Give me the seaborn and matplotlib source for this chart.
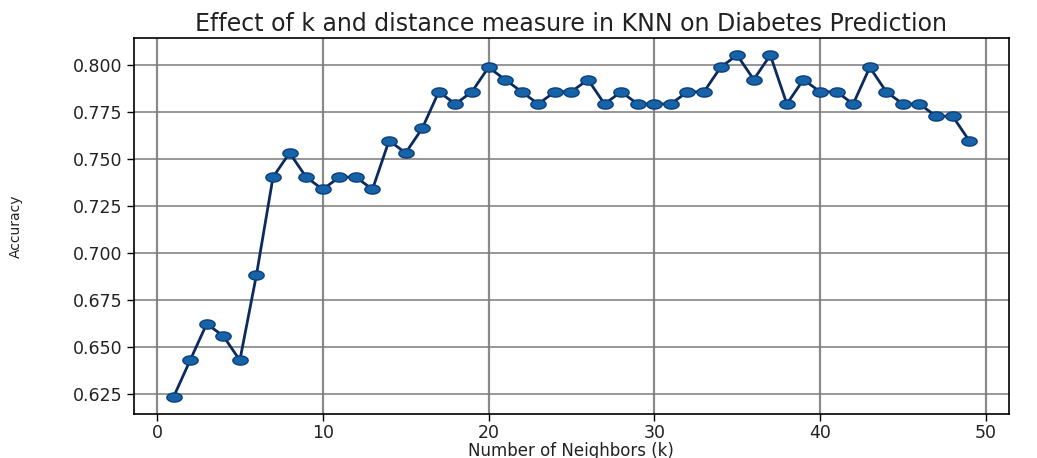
import numpy as np
import pandas as pd
import matplotlib
matplotlib.use("Agg")
import matplotlib.pyplot as plt
from matplotlib.path import Path
import seaborn as sns

# Test accuracy for each neighbourhood size k
k_values = list(range(1, 50))
accuracy = [
    0.6234, 0.6429, 0.6623, 0.6558, 0.6429, 0.6883, 0.7403, 0.7532, 0.7403, 0.7338,
    0.7403, 0.7403, 0.7338, 0.7597, 0.7532, 0.7662, 0.7857, 0.7792, 0.7857, 0.7987,
    0.7922, 0.7857, 0.7792, 0.7857, 0.7857, 0.7922, 0.7792, 0.7857, 0.7792, 0.7792,
    0.7792, 0.7857, 0.7857, 0.7987, 0.8052, 0.7922, 0.8052, 0.7792, 0.7922, 0.7857,
    0.7857, 0.7792, 0.7987, 0.7857, 0.7792, 0.7792, 0.7727, 0.7727, 0.7597,
]
x_ticks = [0, 10, 20, 30, 40, 50]
y_ticks = [0.625, 0.650, 0.675, 0.700, 0.725, 0.750, 0.775, 0.800]

df = pd.DataFrame({"k": k_values, "accuracy": accuracy})

sns.set_theme(style="ticks")
plt.rcParams["font.family"] = ["DejaVu Sans"]

# wide elliptical point marker
theta = np.linspace(0, 2 * np.pi, 60)
ellipse = Path(np.column_stack([np.cos(theta), 0.6 * np.sin(theta)]), closed=True)

fig = plt.figure(figsize=(10.37, 4.58), dpi=100)
ax = fig.add_axes([0.129, 0.096, 0.844, 0.821])

sns.lineplot(
    data=df, x="k", y="accuracy", ax=ax,
    color="#0b2a5e", linewidth=2.0,
    marker=ellipse, markersize=11,
    markerfacecolor="#1663a8", markeredgecolor="#0c3f7a", markeredgewidth=1.0,
)

ax.set_xticks(x_ticks)
ax.set_yticks(y_ticks)
ax.set_yticklabels([f"{v:.3f}" for v in y_ticks])
ax.grid(True, axis="y", color="#7a7a7a", linewidth=1.1)
ax.grid(True, axis="x", color="#8a8a8a", linewidth=1.6)
ax.set_axisbelow(True)
for sp in ax.spines.values():
    sp.set_visible(True)
    sp.set_color("black")
    sp.set_linewidth(1.2)

ax.tick_params(axis="both", labelsize=12.5, length=5, width=1, color="black", labelcolor="#222222")
ax.tick_params(axis="x", pad=2)
ax.tick_params(axis="y", pad=3)
ax.set_xlabel("Number of Neighbors (k)", fontsize=12, color="#222222", labelpad=0)
ax.set_ylabel("Accuracy", fontsize=10, color="#222222", labelpad=36)
ax.set_title("Effect of k and distance measure in KNN on Diabetes Prediction",
             fontsize=17, color="#222222", pad=5)

fig.savefig("out.png", dpi=100)
